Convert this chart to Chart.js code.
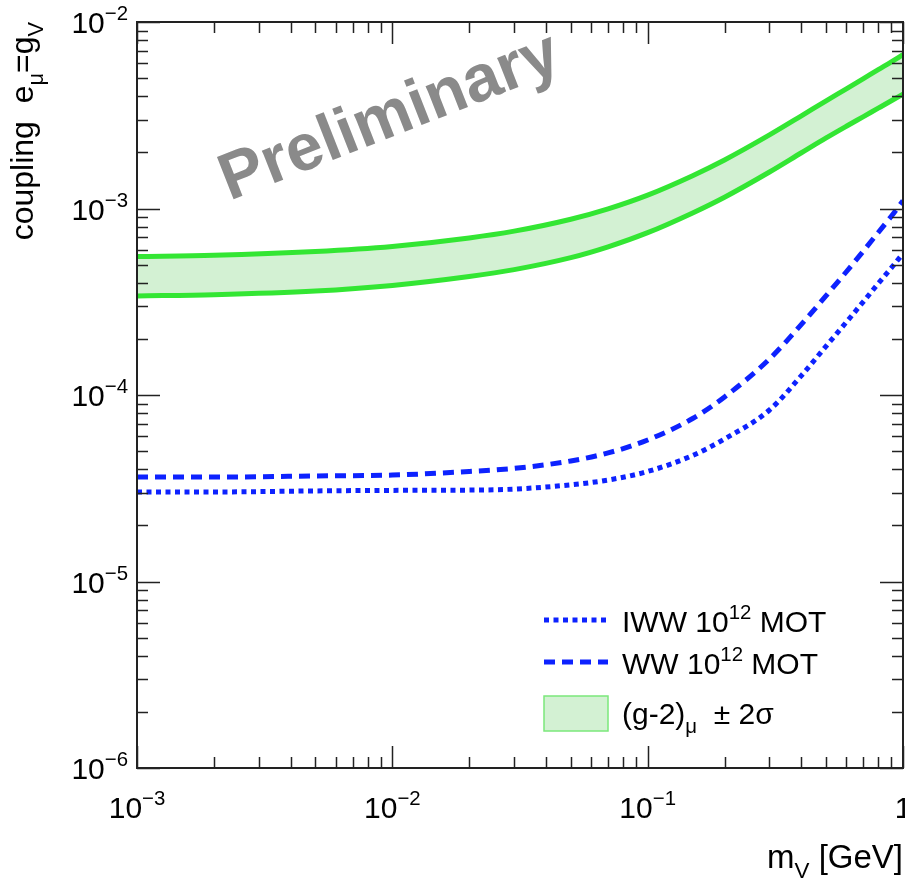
<!DOCTYPE html>
<html>
<head>
<meta charset="utf-8">
<script src="https://cdn.jsdelivr.net/npm/chart.js@4.4.0/dist/chart.umd.min.js"></script>
<style>
  html, body { margin: 0; padding: 0; background: #fff; }
  canvas { display: block; }
</style>
</head>
<body>
<canvas id="grafico" width="905" height="882"></canvas>
<script>
// masa m_V en GeV
const masa = [0.001, 0.002, 0.005, 0.01, 0.02, 0.03, 0.05, 0.07, 0.1, 0.15, 0.2, 0.3, 0.4, 0.5, 0.6, 0.7, 0.8, 0.9, 1.0];
// banda (g-2) +/- 2 sigma
const g2Arriba = [5.53e-4, 5.61e-4, 5.88e-4, 6.26e-4, 6.95e-4, 7.56e-4, 8.76e-4, 9.96e-4, 1.18e-3, 1.50e-3, 1.82e-3, 2.48e-3, 3.14e-3, 3.78e-3, 4.38e-3, 4.97e-3, 5.55e-3, 6.11e-3, 6.68e-3];
const g2Abajo  = [3.40e-4, 3.45e-4, 3.61e-4, 3.87e-4, 4.32e-4, 4.70e-4, 5.45e-4, 6.23e-4, 7.42e-4, 9.47e-4, 1.15e-3, 1.57e-3, 1.99e-3, 2.39e-3, 2.76e-3, 3.11e-3, 3.45e-3, 3.78e-3, 4.10e-3];
// WW 10^12 MOT (rayas)
const ww  = [3.63e-5, 3.63e-5, 3.68e-5, 3.72e-5, 3.89e-5, 4.04e-5, 4.43e-5, 4.89e-5, 5.74e-5, 7.48e-5, 9.76e-5, 1.56e-4, 2.39e-4, 3.41e-4, 4.58e-4, 5.92e-4, 7.44e-4, 9.09e-4, 1.10e-3];
// IWW 10^12 MOT (puntos)
const iww = [3.02e-5, 3.02e-5, 3.06e-5, 3.08e-5, 3.09e-5, 3.13e-5, 3.30e-5, 3.50e-5, 3.89e-5, 4.74e-5, 5.81e-5, 8.31e-5, 1.27e-4, 1.83e-4, 2.46e-4, 3.17e-4, 3.96e-4, 4.80e-4, 5.74e-4];
// exponentes de las etiquetas
const expX = [-3, -2, -1, 0];
const expY = [-6, -5, -4, -3, -2];

const AZUL = '#0d22ff';
const VERDE = '#33e633';
const RELLENO = '#d3f1d3';
const FUENTE = '"Liberation Sans", Arial, Helvetica, sans-serif';

const puntos = arr => masa.map((m, i) => ({x: m, y: arr[i]}));

// texto con sub/superindices: partes = [[texto, 'n'|'sup'|'sub'], ...]
function anchoRico(ctx, partes, size) {
  let w = 0;
  partes.forEach(([t, tipo]) => {
    const s = tipo === 'n' ? size : size * 0.68;
    ctx.font = s + 'px ' + FUENTE;
    w += ctx.measureText(t).width;
  });
  return w;
}
function textoRico(ctx, partes, x, y, size, alinear) {
  const w = anchoRico(ctx, partes, size);
  let cx = alinear === 'right' ? x - w : (alinear === 'center' ? x - w / 2 : x);
  ctx.textAlign = 'left';
  ctx.textBaseline = 'alphabetic';
  partes.forEach(([t, tipo]) => {
    const s = tipo === 'n' ? size : size * 0.68;
    ctx.font = s + 'px ' + FUENTE;
    let dy = 0;
    if (tipo === 'sup') dy = -size * 0.42;
    if (tipo === 'sub') dy = size * 0.3;
    ctx.fillText(t, cx, y + dy);
    cx += ctx.measureText(t).width;
  });
}

const marco = {
  id: 'marco',
  afterDraw(chart) {
    const ctx = chart.ctx;
    const a = chart.chartArea;
    const sx = chart.scales.x, sy = chart.scales.y;
    ctx.save();
    ctx.fillStyle = '#000';
    ctx.strokeStyle = '#222';

    // marcas de los ejes (por dentro, en los cuatro lados)
    ctx.lineWidth = 1.5;
    for (let e = expX[0]; e <= expX[expX.length - 1]; e++) {
      for (let m = 1; m < 10; m++) {
        const v = m * Math.pow(10, e);
        if (v > sx.max * 1.0001) break;
        const px = Math.round(sx.getPixelForValue(v)) + 0.5;
        const largo = m === 1 ? 22 : 11;
        ctx.beginPath();
        ctx.moveTo(px, a.bottom); ctx.lineTo(px, a.bottom - largo);
        ctx.moveTo(px, a.top); ctx.lineTo(px, a.top + largo);
        ctx.stroke();
      }
    }
    for (let e = expY[0]; e <= expY[expY.length - 1]; e++) {
      for (let m = 1; m < 10; m++) {
        const v = m * Math.pow(10, e);
        if (v > sy.max * 1.0001) break;
        const py = Math.round(sy.getPixelForValue(v)) + 0.5;
        const largo = m === 1 ? 23 : 11;
        ctx.beginPath();
        ctx.moveTo(a.left, py); ctx.lineTo(a.left + largo, py);
        ctx.moveTo(a.right, py); ctx.lineTo(a.right - largo, py);
        ctx.stroke();
      }
    }
    // caja
    ctx.lineWidth = 2;
    ctx.strokeRect(a.left, a.top, a.right - a.left, a.bottom - a.top);

    // etiquetas
    expX.forEach(e => {
      const px = sx.getPixelForValue(Math.pow(10, e));
      const partes = e === 0 ? [['1', 'n']] : [['10', 'n'], ['\u2212' + Math.abs(e), 'sup']];
      textoRico(ctx, partes, px, 818, 30, 'center');
    });
    expY.forEach(e => {
      const py = sy.getPixelForValue(Math.pow(10, e));
      textoRico(ctx, [['10', 'n'], ['\u2212' + Math.abs(e), 'sup']], 128, py + 11, 30, 'right');
    });

    // titulos
    textoRico(ctx, [['m', 'n'], ['V', 'sub'], [' [GeV]', 'n']], 903, 868, 33, 'right');
    ctx.save();
    ctx.translate(33, 22);
    ctx.rotate(-Math.PI / 2);
    textoRico(ctx, [['coupling  e', 'n'], ['\u03bc', 'sub'], ['=g', 'n'], ['V', 'sub']], 0, 0, 32, 'right');
    ctx.restore();

    // Preliminary
    ctx.save();
    ctx.translate(390, 118);
    ctx.rotate(-21.5 * Math.PI / 180);
    ctx.fillStyle = '#8a8a8a';
    ctx.font = 'bold 66px ' + FUENTE;
    ctx.textAlign = 'center';
    ctx.textBaseline = 'middle';
    ctx.fillText('Preliminary', 0, 0);
    ctx.restore();

    // leyenda
    const ds = chart.data.datasets;
    const lx0 = 544, lx1 = 608, tx = 622;
    ctx.lineWidth = 5;
    ctx.strokeStyle = ds[0].borderColor;
    ctx.setLineDash(ds[0].borderDash);
    ctx.beginPath(); ctx.moveTo(lx0, 620); ctx.lineTo(lx1, 620); ctx.stroke();
    ctx.setLineDash(ds[1].borderDash);
    ctx.beginPath(); ctx.moveTo(lx0, 662); ctx.lineTo(lx1, 662); ctx.stroke();
    ctx.setLineDash([]);
    ctx.fillStyle = ds[3].backgroundColor;
    ctx.fillRect(lx0, 696, lx1 - lx0, 35);
    ctx.lineWidth = 1.5;
    ctx.strokeStyle = '#7be87b';
    ctx.strokeRect(lx0, 696, lx1 - lx0, 35);
    ctx.fillStyle = '#000';
    textoRico(ctx, [['IWW 10', 'n'], ['12', 'sup'], [' MOT', 'n']], tx, 632, 30, 'left');
    textoRico(ctx, [['WW 10', 'n'], ['12', 'sup'], [' MOT', 'n']], tx, 674, 30, 'left');
    textoRico(ctx, [['(g-2)', 'n'], ['\u03bc', 'sub'], ['  \u00b1 2\u03c3', 'n']], tx, 724, 30, 'left');
    ctx.restore();
  }
};

const ctxG = document.getElementById('grafico');
new Chart(ctxG, {
  type: 'line',
  data: {
    datasets: [
      {label: 'IWW 10^12 MOT', data: puntos(iww), borderColor: AZUL, borderWidth: 5, borderDash: [5, 4.5], pointRadius: 0, fill: false, cubicInterpolationMode: 'monotone'},
      {label: 'WW 10^12 MOT', data: puntos(ww), borderColor: AZUL, borderWidth: 5, borderDash: [11, 7], pointRadius: 0, fill: false, cubicInterpolationMode: 'monotone'},
      {label: '(g-2) arriba', data: puntos(g2Arriba), borderColor: VERDE, borderWidth: 5, pointRadius: 0, fill: false, cubicInterpolationMode: 'monotone'},
      {label: '(g-2)', data: puntos(g2Abajo), borderColor: VERDE, backgroundColor: RELLENO, borderWidth: 5, pointRadius: 0, fill: '-1', cubicInterpolationMode: 'monotone'}
    ]
  },
  options: {
    responsive: false,
    animation: false,
    layout: {padding: {left: 137, right: 2, top: 22, bottom: 114}},
    plugins: {legend: {display: false}, tooltip: {enabled: false}},
    scales: {
      x: {type: 'logarithmic', min: 1e-3, max: 1, display: false},
      y: {type: 'logarithmic', min: 1e-6, max: 1e-2, display: false}
    }
  },
  plugins: [marco]
});
</script>
</body>
</html>
